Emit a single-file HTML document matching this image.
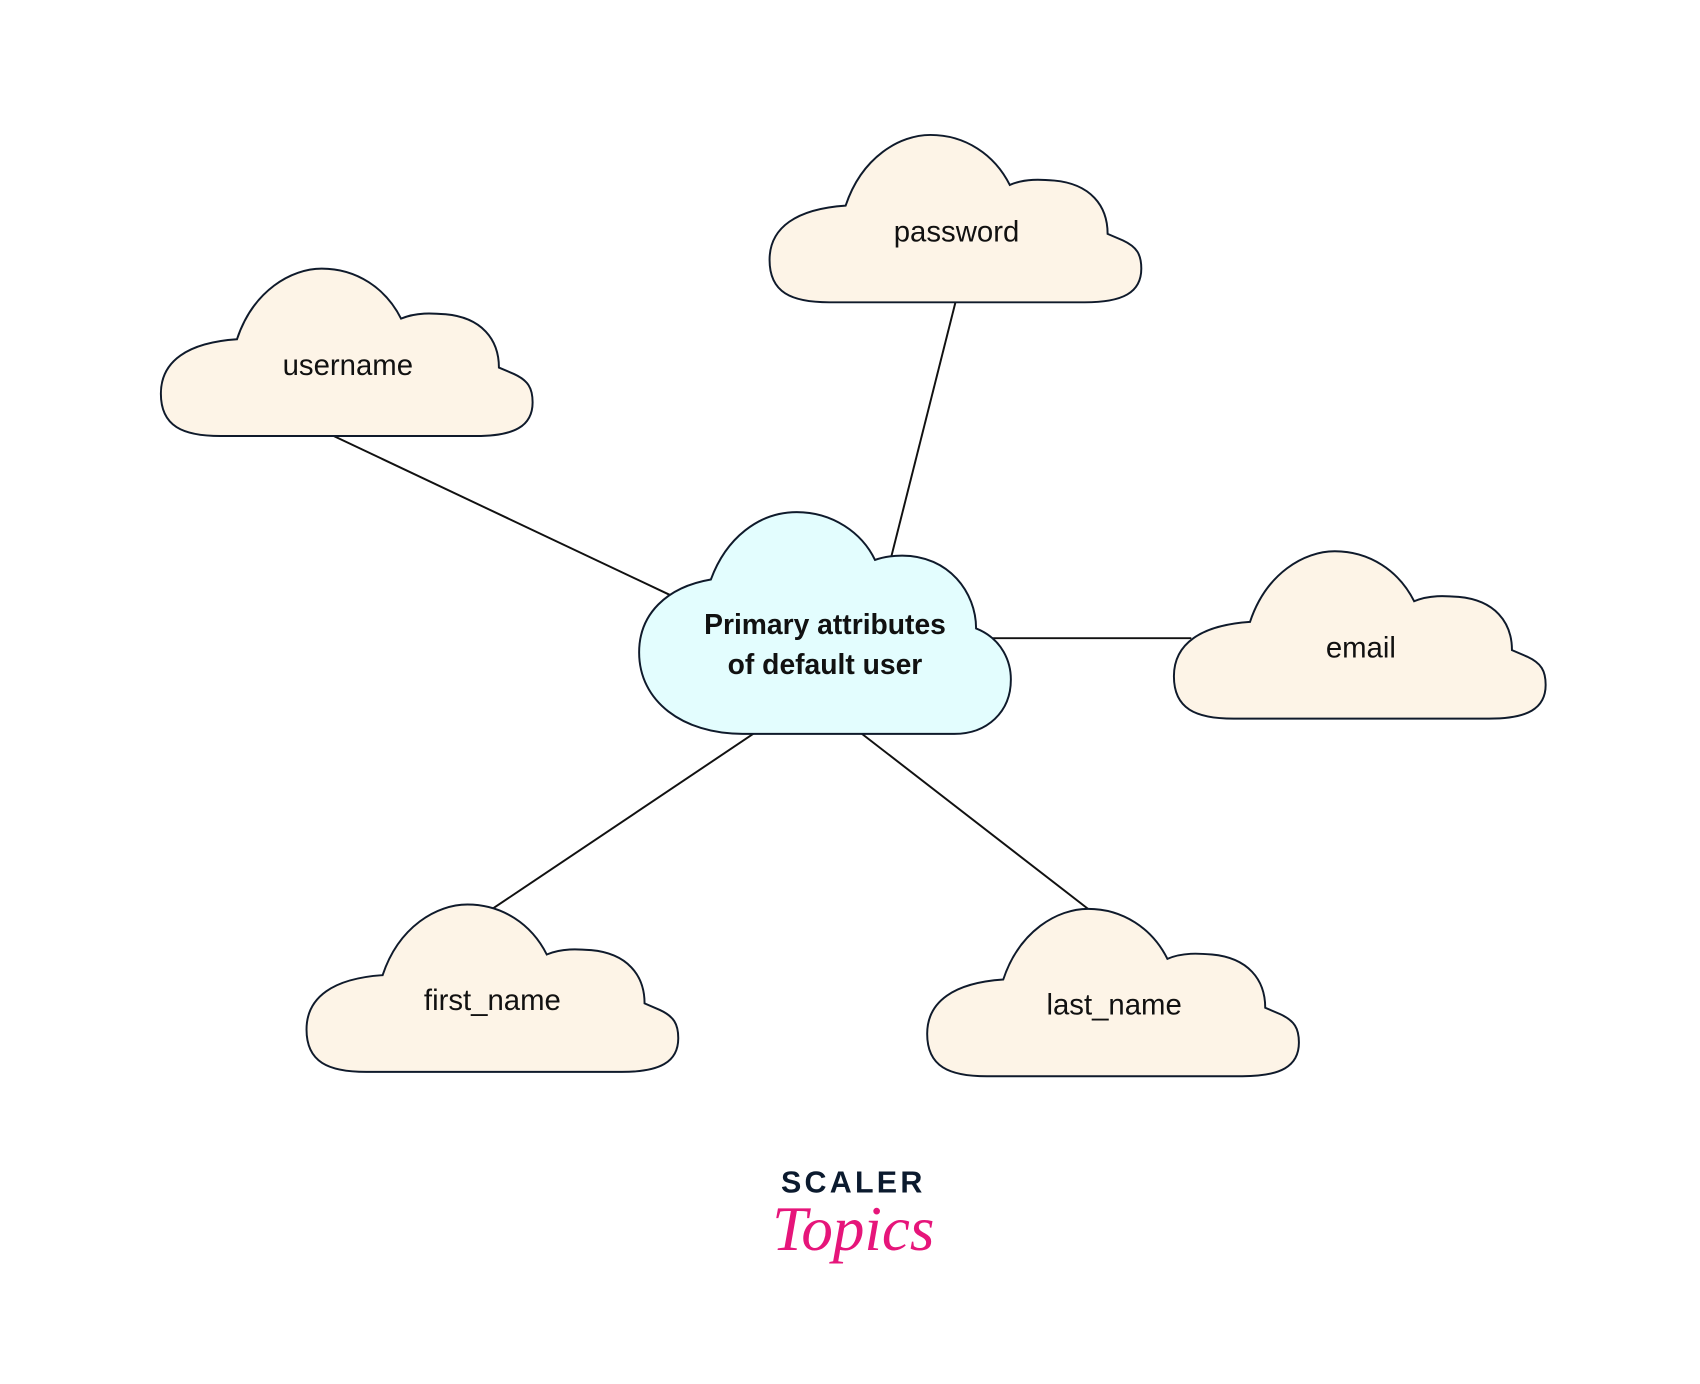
<!DOCTYPE html>
<html><head><meta charset="utf-8"><style>
html,body{margin:0;padding:0;background:#fff;}
svg{display:block}
text{font-family:"Liberation Sans",sans-serif;}
</style></head><body>
<svg width="1700" height="1384" viewBox="0 0 1564 1273" xmlns="http://www.w3.org/2000/svg">
<defs>
<path id="cloud" d="M55,154 C20,154 0,145 0,115 C0,85 25,68 70,65 C85,20 120,0 148,0 C180,0 207,18 221,46 C235,40 250,41 262,42 C295,45 311,65 311,91 L325,97 C338,103 342,110 342,123 C342,145 325,154 290,154 Z" stroke="#0f1a2b" stroke-width="1.8"/>
</defs>
<g stroke="#111" stroke-width="1.8">
<line x1="307" y1="401" x2="618" y2="548"/>
<line x1="879" y1="278" x2="820" y2="512"/>
<line x1="912" y1="587" x2="1096" y2="587"/>
<line x1="693" y1="675" x2="453" y2="836"/>
<line x1="793" y1="675" x2="1001" y2="836"/>
</g>
<use href="#cloud" x="148" y="247" fill="#fdf4e7"/>
<use href="#cloud" x="708" y="124" fill="#fdf4e7"/>
<use href="#cloud" x="1080" y="507" fill="#fdf4e7"/>
<use href="#cloud" x="282" y="832" fill="#fdf4e7"/>
<use href="#cloud" x="853" y="836" fill="#fdf4e7"/>
<path transform="translate(588,470)" d="M95,205 C40,205 0,175 0,130 C0,95 25,70 66,63 C80,25 110,1 145,1 C178,1 205,20 217,45 C225,42 235,41 242,41 C285,41 310,75 310,108 C335,118 342,140 342,155 C342,185 320,205 290,205 Z" fill="#e3fdfe" stroke="#0f1a2b" stroke-width="1.8"/>
<g font-size="27" fill="#111" text-anchor="middle">
<text x="320" y="345">username</text>
<text x="880" y="222">password</text>
<text x="1252" y="605">email</text>
<text x="453" y="929">first_name</text>
<text x="1025" y="933">last_name</text>
<text x="759" y="583" font-weight="bold" font-size="26">Primary attributes</text>
<text x="759" y="620" font-weight="bold" font-size="26">of default user</text>
</g>
<text x="785" y="1097" text-anchor="middle" font-size="28" font-weight="bold" fill="#0b1a2e" letter-spacing="3">SCALER</text>
<text x="785" y="1150" text-anchor="middle" font-size="58" font-style="italic" fill="#e6157a" style="font-family:'Liberation Serif',serif">Topics</text>
</svg>
</body></html>
